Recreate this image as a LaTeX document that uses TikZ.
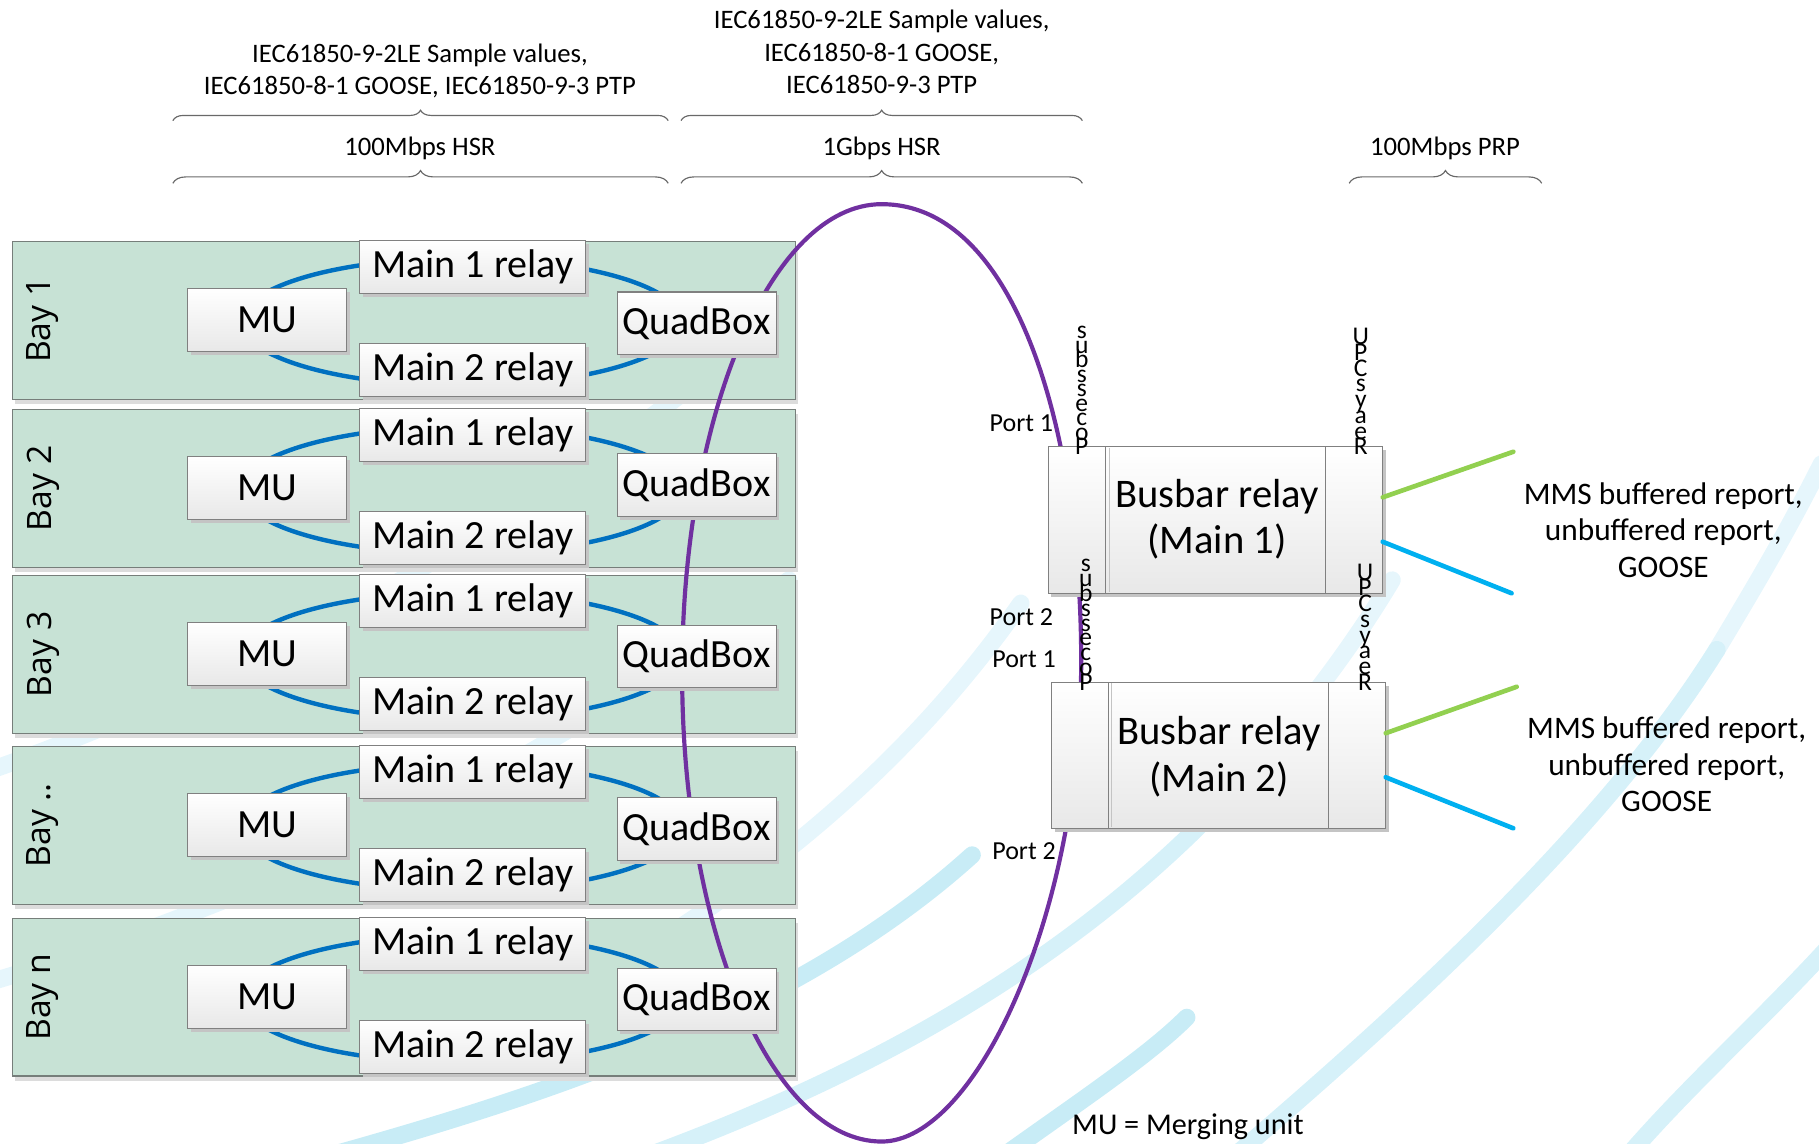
\documentclass[tikz,border=0pt]{standalone}
\usepackage{fontspec}
\setmainfont{Carlito}
\newfontfamily\bayfont{Open Sans}
\usetikzlibrary{shadows,decorations.pathreplacing}

\definecolor{bayfill}{RGB}{199,226,213}
\definecolor{bayline}{RGB}{118,126,122}
\definecolor{boxline}{RGB}{128,128,128}
\definecolor{boxbot}{RGB}{232,232,232}
\definecolor{boxshade}{RGB}{196,196,196}
\definecolor{ringblue}{RGB}{0,112,192}
\definecolor{hsrpurple}{RGB}{112,48,160}
\definecolor{mmsgreen}{RGB}{146,208,80}
\definecolor{mmsblue}{RGB}{0,176,240}
\definecolor{swoosh}{RGB}{200,236,246}
\definecolor{swooshmid}{RGB}{214,241,249}
\definecolor{swooshpale}{RGB}{230,246,252}
\definecolor{bracegray}{RGB}{105,105,105}

\tikzset{
  unitbox/.style={draw=boxline, line width=0.9pt, top color=white, bottom color=boxbot,
    inner sep=0pt, font=\fontsize{34.5}{40}\selectfont,
    general shadow={fill=boxshade, shadow xshift=2.5pt, shadow yshift=-3pt}},
  mubox/.style={unitbox, minimum width=137pt, minimum height=54pt},
  relaybox/.style={unitbox, minimum width=195pt, minimum height=46pt},
  quadbox/.style={unitbox, minimum width=137pt, minimum height=54pt},
  baypanel/.style={draw=bayline, line width=0.9pt, fill=bayfill, minimum width=675pt,
    minimum height=136pt, inner sep=0pt,
    general shadow={fill=boxshade!60, shadow xshift=2pt, shadow yshift=-4pt}},
  baylabel/.style={font=\bayfont\fontsize{29}{34}\selectfont, rotate=90, inner sep=0pt},
  bayring/.style={draw=ringblue, line width=3.8pt},
  hsrring/.style={draw=hsrpurple, line width=3.6pt},
  busbox/.style={draw=boxline, line width=0.9pt, top color=white, bottom color=boxbot,
    inner sep=0pt, general shadow={fill=boxshade, shadow xshift=2.5pt, shadow yshift=-3pt}},
  bustext/.style={align=center, font=\fontsize{35}{40}\selectfont, inner sep=0pt},
  stackch/.style={font=\fontsize{22}{22}\selectfont, anchor=base, inner sep=0pt},
  portlbl/.style={font=\fontsize{22.4}{26}\selectfont, anchor=base east, inner sep=0pt},
  mmstext/.style={align=center, font=\fontsize{27}{31.6}\selectfont, inner sep=0pt},
  toptext/.style={align=center, font=\fontsize{23}{28}\selectfont, inner sep=0pt},
  netbrace/.style={draw=bracegray, line width=1pt, decorate},
  reportline/.style={line width=4pt, line cap=round},
  swooshband/.style={draw=swoosh, line width=15pt, line cap=round},
  swooshsoft/.style={draw=swooshmid, line width=15pt, line cap=round},
  swooshtail/.style={draw=swooshpale, line width=15pt, line cap=round},
}

\begin{document}
\begin{tikzpicture}[x=1pt,y=-1pt]
\useasboundingbox (0,0) rectangle (1568,986);

% decorative background bands
\begin{scope}
  \clip (0,0) rectangle (1568,986);
  \draw[swooshtail] (-20,668) .. controls (150,610) and (380,500) .. (600,330);
  \draw[swooshtail] (-20,850) .. controls (150,800) and (420,700) .. (680,500);
  \draw[swooshtail] (400,905) .. controls (550,830) and (740,720) .. (880,520);
  \draw[swooshtail] (1100,640) .. controls (1140,590) and (1170,550) .. (1200,500);
  \draw[swooshtail] (1480,560) .. controls (1510,510) and (1540,460) .. (1570,400);
  \draw[swooshsoft] (520,1010) .. controls (750,930) and (950,820) .. (1100,640);
  \draw[swooshsoft] (1060,1000) .. controls (1200,880) and (1380,720) .. (1480,560);
  \draw[swooshsoft] (1400,1000) .. controls (1460,930) and (1530,870) .. (1600,790);
  \draw[swooshband] (270,1000) .. controls (450,950) and (680,880) .. (838,737);
  \draw[swooshband] (860,1000) .. controls (930,950) and (990,910) .. (1023,877);
\end{scope}

% bay panels, labels and bay rings
\foreach \T/\n/\lab in {207.5/1/Bay 1, 352.5/2/Bay 2, 495.5/3/Bay 3, 643/4/Bay .., 791/5/Bay n}{
  \node[baypanel] (bay\n) at (348.5, \T+68.5) {};
  \node[baylabel] (baylab\n) at (37, \T+68.5) {\lab};
  \draw[bayring] (398, \T+70) ellipse [x radius=190pt, y radius=55pt];
}

% 1 Gbps HSR ring
\coordinate (rtop) at (760,176);
\coordinate (rright) at (932,570);
\coordinate (rbot) at (760,984);
\coordinate (rleft) at (588,580);
\draw[hsrring] (rtop) .. controls (875,176) and (932,370) .. (rright)
  .. controls (932,790) and (840,984) .. (rbot)
  .. controls (665,984) and (588,803) .. (rleft)
  .. controls (588,357) and (665,176) .. (rtop);

% devices inside each bay
\foreach \T/\n/\q in {207.5/1/71.2, 352.5/2/65.6, 495.5/3/70.5, 643/4/71.5, 791/5/70.5}{
  \node[mubox] (mu\n) at (230.5, \T+68.3) {MU};
  \node[relaybox] (mainA\n) at (407.5, \T+22.5) {Main 1 relay};
  \node[relaybox] (mainB\n) at (407.5, \T+111.3) {Main 2 relay};
  \node[quadbox] (qb\n) at (600.5, \T+\q) {QuadBox};
}

% busbar relays
\node[busbox, minimum width=288.2pt, minimum height=126.5pt] (bb1) at (1047.8,448.25) {};
\draw[boxline, line width=0.9pt] (952.8,385) -- (952.8,511.5);
\draw[boxshade, line width=1pt] (956.3,386) -- (956.3,510.5);
\draw[boxline, line width=0.9pt] (1142.7,385) -- (1142.7,511.5);
\node[bustext] (bb1txt) at (1049,447.4) {Busbar relay\\(Main 1)};

\node[busbox, minimum width=288pt, minimum height=125.8pt] (bb2) at (1050.5,651.1) {};
\draw[boxline, line width=0.9pt] (955.4,588.2) -- (955.4,714);
\draw[boxshade, line width=1pt] (958,589) -- (958,713);
\draw[boxline, line width=0.9pt] (1145.3,588.2) -- (1145.3,714);
\node[bustext] (bb2txt) at (1051,652.2) {Busbar relay\\(Main 2)};

% stacked port captions
\foreach \ch [count=\k from 0] in {s,u,b,s,s,e,c,o,P}
  \node[stackch] (psa\k) at (932.5, {292+12.5*\k}) {\ch};
\foreach \ch [count=\k from 0] in {U,P,C,s,y,a,e,R}
  \node[stackch] (rsa\k) at (1173, {297+13.6*\k}) {\ch};
\foreach \ch [count=\k from 0] in {s,u,b,s,s,e,c,o,P}
  \node[stackch] (psb\k) at (936, {493+12.75*\k}) {\ch};
\foreach \ch [count=\k from 0] in {U,P,C,s,y,a,e,R}
  \node[stackch] (rsb\k) at (1176.7, {500+13.6*\k}) {\ch};

% port labels
\node[portlbl] (p1a) at (908,372) {Port 1};
\node[portlbl] (p2a) at (908,538.8) {Port 2};
\node[portlbl] (p1b) at (910.3,575.3) {Port 1};
\node[portlbl] (p2b) at (910.3,740.8) {Port 2};

% station-side links
\coordinate (g1a) at (1191.9,428.7);
\coordinate (g1b) at (1304.5,389.4);
\coordinate (c1a) at (1191.9,467);
\coordinate (c1b) at (1303,511.4);
\coordinate (g2a) at (1194.5,632);
\coordinate (g2b) at (1307.4,592);
\coordinate (c2a) at (1194.5,670);
\coordinate (c2b) at (1304.5,714);
\draw[reportline, mmsgreen] (g1a) -- (g1b);
\draw[reportline, mmsblue] (c1a) -- (c1b);
\draw[reportline, mmsgreen] (g2a) -- (g2b);
\draw[reportline, mmsblue] (c2a) -- (c2b);

\node[mmstext] (mms1) at (1433.8,457) {MMS buffered report,\\unbuffered report,\\GOOSE};
\node[mmstext] (mms2) at (1436.7,659) {MMS buffered report,\\unbuffered report,\\GOOSE};

% network captions and braces
\node[toptext] (cap100) at (362,61) {IEC61850-9-2LE Sample values,\\IEC61850-8-1 GOOSE, IEC61850-9-3 PTP};
\node[toptext] (cap1g) at (760,45) {IEC61850-9-2LE Sample values,\\IEC61850-8-1 GOOSE,\\IEC61850-9-3 PTP};
\node[toptext] (hsr100) at (362,128) {100Mbps HSR};
\node[toptext] (hsr1g) at (760,128) {1Gbps HSR};
\node[toptext] (prp100) at (1245.6,128) {100Mbps PRP};

\draw[netbrace, decoration={brace, amplitude=9pt}] (149,104) -- (576,104);
\draw[netbrace, decoration={brace, amplitude=11pt}] (149,158) -- (576,158);
\draw[netbrace, decoration={brace, amplitude=9pt}] (587,104) -- (933,104);
\draw[netbrace, decoration={brace, amplitude=11pt}] (587,158) -- (933,158);
\draw[netbrace, decoration={brace, amplitude=11pt}] (1163,158) -- (1329,158);

\node[font=\fontsize{26}{30}\selectfont, inner sep=0pt] (legend) at (1024,971) {MU = Merging unit};
\end{tikzpicture}
\end{document}
